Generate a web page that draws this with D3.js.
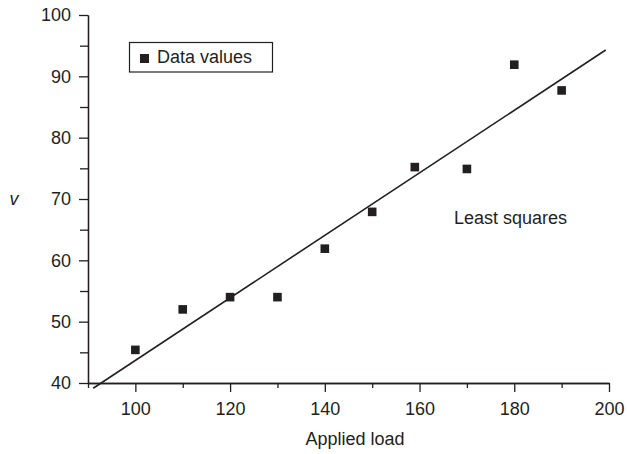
<!DOCTYPE html>
<html><head><meta charset="utf-8">
<script src="https://cdn.jsdelivr.net/npm/d3@7"></script>
<style>body{margin:0;background:#fff}svg{display:block}text{font-family:"Liberation Sans",Arial,sans-serif;fill:#231f20}</style>
</head><body>
<svg id="c" width="627" height="454"></svg>
<script>
const loadValues = [100, 110, 120, 130, 140, 150, 159, 170, 180, 190];
const vValues = [45.4, 52.0, 54.0, 54.0, 61.9, 67.9, 75.2, 74.9, 91.9, 87.7];
const fitX = [91.1, 199.3];
const fitY = [39.15, 94.3];
const xMajorTicks = [100, 120, 140, 160, 180, 200];
const xMinorTicks = [90, 110, 130, 150, 170, 190];
const yMajorTicks = [40, 50, 60, 70, 80, 90, 100];
const yMinorTicks = [45, 55, 65, 75, 85, 95];

const svg = d3.select("#c");
const ink = "#231f20";
const x = d3.scaleLinear().domain([90, 200]).range([88, 609]);
const y = d3.scaleLinear().domain([40, 100]).range([383, 15]);

// X axis
const gx = svg.append("g").attr("transform", `translate(0,${y(40)})`);
gx.call(d3.axisBottom(x).tickValues(xMajorTicks).tickSize(9).tickPadding(10).tickSizeOuter(0).tickFormat(d3.format("d")));
gx.append("g").call(d3.axisBottom(x).tickValues(xMinorTicks).tickSize(5).tickFormat("").tickSizeOuter(0));
// Y axis
const gy = svg.append("g").attr("transform", `translate(${x(90)},0)`);
gy.call(d3.axisLeft(y).tickValues(yMajorTicks).tickSize(9).tickPadding(8).tickSizeOuter(0).tickFormat(d3.format("d")));
gy.append("g").call(d3.axisLeft(y).tickValues(yMinorTicks).tickSize(8).tickFormat("").tickSizeOuter(0));

svg.selectAll(".domain").attr("stroke", ink).attr("stroke-width", 1.3);
svg.selectAll(".tick line").attr("stroke", ink).attr("stroke-width", 1.3);
svg.selectAll(".tick text").attr("font-size", 18).attr("font-family", "Liberation Sans, Arial, sans-serif").attr("fill", ink);

// fit line
svg.append("line")
  .attr("x1", x(fitX[0])).attr("y1", y(fitY[0]))
  .attr("x2", x(fitX[1])).attr("y2", y(fitY[1]))
  .attr("stroke", ink).attr("stroke-width", 1.6);

// data squares
const s = 8.6;
svg.selectAll("rect.pt").data(loadValues).enter().append("rect")
  .attr("class", "pt")
  .attr("x", (d) => x(d) - s / 2)
  .attr("y", (d, i) => y(vValues[i]) - s / 2)
  .attr("width", s).attr("height", s)
  .attr("fill", ink);

// legend
svg.append("rect").attr("x", 129.5).attr("y", 42.5).attr("width", 143).attr("height", 29.5)
  .attr("fill", "#fff").attr("stroke", ink).attr("stroke-width", 1.2);
svg.append("rect").attr("x", 140).attr("y", 54).attr("width", 9).attr("height", 9).attr("fill", ink);
svg.append("text").attr("x", 157).attr("y", 62.5).attr("font-size", 18).text("Data values");

// annotation
svg.append("text").attr("x", 454).attr("y", 224).attr("font-size", 18).text("Least squares");

// axis titles
svg.append("text").attr("x", 355).attr("y", 445).attr("text-anchor", "middle").attr("font-size", 18).text("Applied load");
svg.append("text").attr("x", 14).attr("y", 205).attr("text-anchor", "middle").attr("font-size", 18).attr("font-style", "italic").text("v");
</script>
</body></html>
